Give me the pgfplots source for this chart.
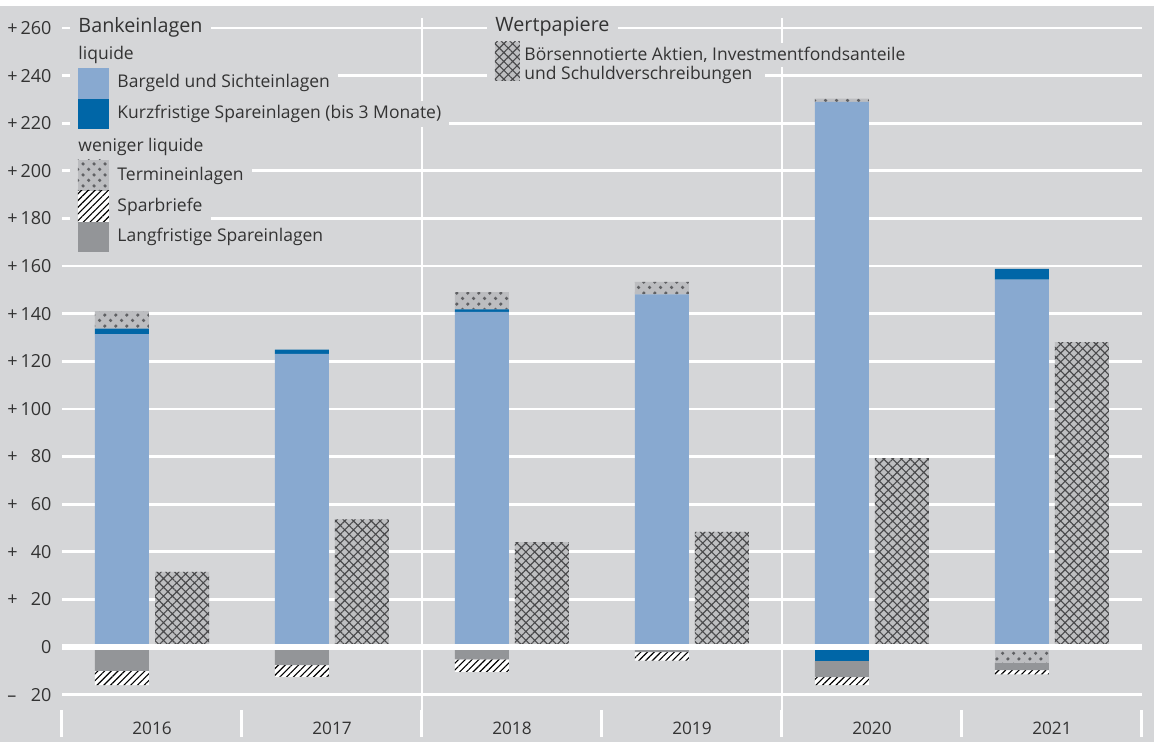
\documentclass[border=0pt]{standalone}
\usepackage{fontspec}
\setmainfont{Open Sans}
\usepackage{pgfplots}
\pgfplotsset{compat=1.18}
\usepackage{pgfplotstable}
\usetikzlibrary{patterns,patterns.meta}

\definecolor{bg}{HTML}{D5D6D8}
\definecolor{txt}{HTML}{333333}
\definecolor{lblue}{HTML}{88A9D0}
\definecolor{dblue}{HTML}{0066A7}
\definecolor{tgray}{HTML}{BCBDC0}
\definecolor{dotc}{HTML}{5F6063}
\definecolor{lgray}{HTML}{939598}
\definecolor{xgray}{HTML}{BEBFC1}
\definecolor{xline}{HTML}{4A4A4C}

\pgfdeclarepatternformonly{pdots}{\pgfpointorigin}{\pgfpoint{4.3pt}{4.3pt}}{\pgfpoint{4.3pt}{4.3pt}}{%
  \pgfpathcircle{\pgfpoint{1.07pt}{1.07pt}}{0.72pt}%
  \pgfpathcircle{\pgfpoint{3.22pt}{3.22pt}}{0.72pt}%
  \pgfusepath{fill}}

\newcommand\tickfont{\fontsize{7.2}{8.6}\selectfont}
\newcommand\legfont{\fontsize{7}{8.4}\selectfont}
\newcommand\headfont{\fontsize{7.9}{9.5}\selectfont}
\newcommand\yearfont{\fontsize{6.9}{8.3}\selectfont}
\newcommand\yl[2]{\hbox to 17.6pt{#1\hfil#2}}

\tikzset{
  sBar/.style={fill=lblue, draw=none},
  sKurz/.style={fill=dblue, draw=none},
  sTerm/.style={draw=none, preaction={fill=tgray}, pattern=pdots, pattern color=dotc},
  sSpar/.style={draw=none, preaction={fill=white}, pattern={Lines[angle=45,distance=1.9pt,line width=0.45pt]}, pattern color=black},
  sLang/.style={fill=lgray, draw=none},
  sWp/.style={draw=none, preaction={fill=xgray}, pattern={Hatch[angle=45,distance=2.5pt,line width=0.45pt]}, pattern color=xline},
  lg/.style={anchor=west, fill=bg, inner xsep=3.2pt, inner ysep=1.6pt, text=txt, font=\legfont},
}

\pgfplotsset{base/.style={
  scale only axis, width=432pt, height=287.6pt,
  xmin=-0.5, xmax=5.5, ymin=-37.8, ymax=264.2,
  bar width=0.3,
}}

% positive parts of the deposit bars (x = year index - 1/6)
\pgfplotstableread{
x        bar    kurz  termin
-0.1667  131.4  2.3   7.4
0.8333   123.1  1.8   0
1.8333   140.8  1.0   7.3
2.8333   148.1  0     5.3
3.8333   229.0  0     1.3
4.8333   154.3  4.5   0
}\pos
% negative parts
\pgfplotstableread{
x        kurz  termin  lang   spar
-0.1667  0     0       -10.0  -6.0
0.8333   0     0       -7.6   -4.9
1.8333   0     0       -5.2   -5.2
2.8333   0     0       -2.2   -3.5
3.8333   -5.9  0       -6.8   -3.3
4.8333   0     -6.6    -3.1   -1.8
}\neg
% securities (x = year index + 1/6)
\pgfplotstableread{
x       wp
0.1667  31.5
1.1667  53.6
2.1667  44.1
3.1667  48.4
4.1667  79.3
5.1667  128.1
}\wp

\begin{document}
\begin{tikzpicture}
\useasboundingbox (-24.8pt,-2pt) rectangle (436.8pt,294.8pt);
\fill[bg] (-24.8pt,-2pt) rectangle (436.8pt,292.4pt);

\begin{axis}[base, ybar stacked, bar shift=0pt,
  axis line style={draw=none},
  ymajorgrids, major grid style={white, line width=1.1pt},
  ytick={-20,0,20,...,260},
  yticklabels={{\yl{–}{20}},{\yl{}{0}},{\yl{+}{20}},{\yl{+}{40}},{\yl{+}{60}},{\yl{+}{80}},
    {\yl{+}{100}},{\yl{+}{120}},{\yl{+}{140}},{\yl{+}{160}},{\yl{+}{180}},{\yl{+}{200}},
    {\yl{+}{220}},{\yl{+}{240}},{\yl{+}{260}}},
  yticklabel style={anchor=east, font=\tickfont, text=txt, inner sep=0pt, xshift=-4pt},
  xtick={0,...,5}, xticklabels={2016,2017,2018,2019,2020,2021},
  xticklabel style={anchor=center, yshift=3.6pt, font=\yearfont, text=txt},
  minor xtick={-0.5,0.5,...,5.5},
  extra x ticks={1.5,3.5}, extra x tick labels={},
  extra x tick style={grid=major},
  tick align=inside, xtick pos=left, ytick pos=left,
  major tick length=0pt, minor tick length=10.8pt,
  every minor tick/.append style={white, line width=1.2pt},
]
\addplot[sBar] table[x=x, y=bar] {\pos};
\addplot[sKurz] table[x=x, y=kurz] {\pos};
\addplot[sTerm] table[x=x, y=termin] {\pos};
\end{axis}

\begin{axis}[base, hide axis, ybar stacked, bar shift=0pt]
\addplot[sKurz] table[x=x, y=kurz] {\neg};
\addplot[sTerm] table[x=x, y=termin] {\neg};
\addplot[sLang] table[x=x, y=lang] {\neg};
\addplot[sSpar] table[x=x, y=spar] {\neg};
\end{axis}

\begin{axis}[base, hide axis, ybar, bar shift=0pt]
\addplot[sWp] table[x=x, y=wp] {\wp};
\draw[white, line width=2.5pt] (axis cs:-0.5,0) -- (axis cs:5.5,0);
\end{axis}

% legend, in pixel units of the reference
\begin{scope}[x=0.4pt, y=-0.4pt, shift={(-24.8pt,294.8pt)}]
\fill[bg] (70,62) rectangle (109,256);
\node[lg, font=\headfont] at (70,27) {Bankeinlagen};
\node[lg] at (70,55) {liquide};
\fill[lblue] (78,68) rectangle (109,99);
\fill[dblue] (78,99) rectangle (109,129);
\node[lg] at (109,83) {Bargeld und Sichteinlagen};
\node[lg] at (109,114) {Kurzfristige Spareinlagen (bis 3 Monate)};
\node[lg] at (70,147) {weniger liquide};
\path[sTerm] (78,160) rectangle (109,191);
\path[sSpar] (78,191) rectangle (109,222);
\fill[lgray] (78,222) rectangle (109,252);
\node[lg] at (109,176) {Termineinlagen};
\node[lg] at (109,207) {Sparbriefe};
\node[lg] at (109,237) {Langfristige Spareinlagen};

\node[lg, font=\headfont] at (487,27) {Wertpapiere};
\fill[bg] (487,40) rectangle (765,86);
\path[sWp] (495,42) rectangle (520,81);
\node[lg, inner xsep=1.6pt] at (520,55) {Börsennotierte Aktien, Investmentfondsanteile};
\node[lg, inner xsep=1.6pt] at (520,75) {und Schuldverschreibungen};
\end{scope}
\end{tikzpicture}
\end{document}
